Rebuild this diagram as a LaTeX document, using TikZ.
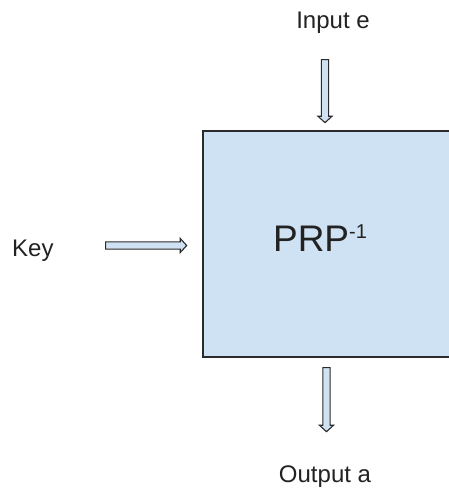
\documentclass[tikz,border=0pt]{standalone}
\usepackage{fontspec}
\setmainfont{Liberation Sans}
\usetikzlibrary{shapes.arrows}
\definecolor{boxblue}{HTML}{CFE2F3}
\definecolor{ink}{HTML}{222222}
\definecolor{edge}{HTML}{2B2B2B}
\tikzset{
  lbl/.style={text=ink, font=\fontsize{24}{28}\selectfont, inner sep=0pt},
  cipher/.style={draw=edge, line width=1.5pt, fill=boxblue},
  hollow/.style={single arrow, draw=edge, fill=boxblue, line width=1.1pt,
    inner sep=3.1pt, single arrow head extend=3.4pt, single arrow tip angle=95,
    anchor=center}
}
\begin{document}
\begin{tikzpicture}[x=1pt, y=-1pt]
  \useasboundingbox (0,0) rectangle (449,492);
  % the cipher block runs past the right margin
  \path[cipher] (203,131) rectangle (470,357);
  \node[text=ink, font=\fontsize{37}{40}\selectfont, anchor=base] (prp) at (320,251)
    {PRP\raisebox{12.5pt}{\fontsize{20}{22}\selectfont -1}};

  \node[lbl, anchor=base] (in) at (333,29) {Input e};
  \node[lbl, anchor=base] (out) at (325,482) {Output a};
  \node[lbl, anchor=base west] (key) at (12,256) {Key};

  % hollow arrows
  \node[hollow, minimum height=63pt, shape border rotate=270] (ain) at (325,89.5) {};
  \node[hollow, minimum height=64pt, shape border rotate=270] (aout) at (326.5,398) {};
  \node[hollow, minimum height=81pt] (akey) at (144.5,245.5) {};
\end{tikzpicture}
\end{document}
